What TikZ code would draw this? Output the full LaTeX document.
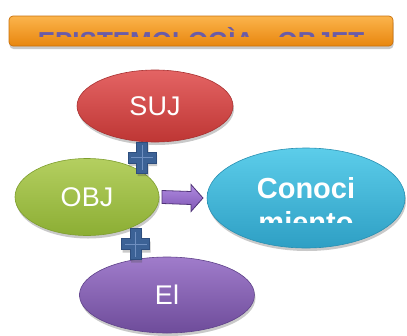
\documentclass[tikz,border=0pt]{standalone}
\usepackage{fontspec}
\setmainfont{Liberation Sans}
\usetikzlibrary{shapes.geometric,shadows,calc}
\definecolor{orT}{HTML}{FBB44C}
\definecolor{orB}{HTML}{E8860E}
\definecolor{orD}{HTML}{C9700A}
\definecolor{ttlC}{HTML}{6A5CA8}
\definecolor{sujT}{HTML}{E46464}
\definecolor{sujB}{HTML}{BE3634}
\definecolor{sujD}{HTML}{A83030}
\definecolor{objT}{HTML}{B4CF60}
\definecolor{objB}{HTML}{8CAE34}
\definecolor{objD}{HTML}{7E9E2E}
\definecolor{conT}{HTML}{5CCDEA}
\definecolor{conB}{HTML}{2E9FC4}
\definecolor{conD}{HTML}{2990B2}
\definecolor{elT}{HTML}{A07CCB}
\definecolor{elB}{HTML}{6E4C9A}
\definecolor{elD}{HTML}{5F428A}
\definecolor{plusC}{HTML}{3C6296}
\definecolor{plusD}{HTML}{2E4E7E}
\definecolor{plusL}{HTML}{6F8FC0}
\definecolor{arT}{HTML}{B08AE0}
\definecolor{arB}{HTML}{7E56B4}
\definecolor{arD}{HTML}{503478}
\begin{document}
\begin{tikzpicture}[x=1pt,y=-1pt,
  softshadow/.style={drop shadow={shadow xshift=1pt,shadow yshift=-3pt,opacity=0.3,fill=black!70}},
  blob/.style={ellipse,inner sep=0pt,outer sep=0pt,line width=0.6pt,softshadow,text=white,
    font=\fontsize{27}{32}\selectfont},
  titlebar/.style={rectangle,rounded corners=4pt,minimum width=384pt,minimum height=30pt,
    inner sep=0pt,outer sep=0pt,top color=orT,bottom color=orB,draw=orD,line width=0.7pt,
    drop shadow={shadow xshift=0.5pt,shadow yshift=-3pt,opacity=0.3,fill=black!70}},
  titletext/.style={inner sep=0pt,text=ttlC,font=\bfseries\fontsize{26}{30}\selectfont},
  context/.style={inner sep=0pt,text=white,font=\bfseries\fontsize{29}{34}\selectfont},
  blockarrow/.style={top color=arT,bottom color=arB,draw=arD,line width=0.8pt,line join=miter},
  pics/plussign/.style={code={
    \fill[plusC,draw=plusD,line width=0.6pt,softshadow]
      (-5.5,-15.5) -- (5.5,-15.5) -- (5.5,-5.5) -- (14,-5.5) -- (14,5.5) -- (5.5,5.5)
      -- (5.5,15.5) -- (-5.5,15.5) -- (-5.5,5.5) -- (-14,5.5) -- (-14,-5.5) -- (-5.5,-5.5) -- cycle;
    \draw[plusL,line width=0.7pt] (0,-12.5) -- (0,12.5) (-11,0) -- (11,0);
  }}
]
\useasboundingbox (0,0) rectangle (407,335);
% title
\node[titlebar] (title) at (201,31) {};
\begin{scope}
  \clip (10,17) rectangle (392,36);
  \node[titletext,anchor=base] (ttl) at (201,50.6) {EPISTEMOLOGÌA - OBJET};
\end{scope}
% ellipses
\node[blob,minimum width=198pt,minimum height=100pt,top color=conT,bottom color=conB,draw=conD] (con) at (306,198) {};
\begin{scope}
  \clip (200,150) rectangle (407,222);
  \node[context,anchor=base] (con1) at (306,198) {Conoci};
  \node[context,anchor=base] (con2) at (306,232) {miento};
\end{scope}
\node[blob,minimum width=175pt,minimum height=76pt,top color=elT,bottom color=elB,draw=elD] (el) at (167,295) {El};
\node[blob,minimum width=144pt,minimum height=77pt,top color=objT,bottom color=objB,draw=objD] (obj) at (87,197) {OBJ};
\node[blob,minimum width=156pt,minimum height=72pt,top color=sujT,bottom color=sujB,draw=sujD] (suj) at (155,106) {SUJ};
% plus signs
\coordinate (p1) at (142,157.5);
\coordinate (p2) at (135.5,244);
\pic at (p1) {plussign};
\pic at (p2) {plussign};
% block arrow
\coordinate (a1) at ($(obj.east)+(3,0)$);
\coordinate (a2) at ($(con.west)+(-4,0)$);
\draw[blockarrow] ($(a1)+(0,-6.5)$) -- ($(a2)+(-12,-6.5)$) -- ($(a2)+(-12,-13.5)$) -- (a2)
  -- ($(a2)+(-12,13.5)$) -- ($(a2)+(-12,6.5)$) -- ($(a1)+(0,6.5)$) -- cycle;
\end{tikzpicture}
\end{document}
